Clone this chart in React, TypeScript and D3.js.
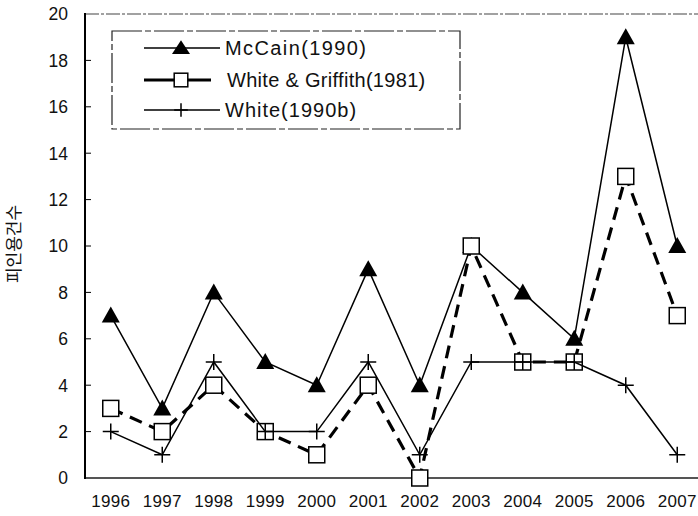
import { useRef, useEffect } from 'react';
import * as d3 from 'd3';

// Data
const years = ['1996', '1997', '1998', '1999', '2000', '2001', '2002', '2003', '2004', '2005', '2006', '2007'];
const mccain = [7, 3, 8, 5, 4, 9, 4, 10, 8, 6, 19, 10];
const whiteGriffith = [3, 2, 4, 2, 1, 4, 0, 10, 5, 5, 13, 7];
const white1990b = [2, 1, 5, 2, 2, 5, 1, 5, 5, 5, 4, 1];
const yTicks = [0, 2, 4, 6, 8, 10, 12, 14, 16, 18, 20];
const seriesNames = ['McCain(1990)', 'White & Griffith(1981)', 'White(1990b)'];

const width = 698;
const height = 516;

function App() {
  const ref = useRef<SVGSVGElement>(null);

  useEffect(() => {
    const svg = d3.select(ref.current);
    svg.selectAll('*').remove();

    const font = '"Liberation Sans", Arial, sans-serif';
    const left = 85;
    const step = 51.5;
    const top = 14;
    const bottom = 478;

    const x = d3.scaleBand().domain(years).range([left, left + step * years.length]);
    const cx = (i: number) => (x(years[i]) ?? 0) + x.bandwidth() / 2;
    const y = d3.scaleLinear().domain([0, 20]).range([bottom, top]);

    // plot frame
    svg.append('line')
      .attr('x1', left).attr('x2', width).attr('y1', top).attr('y2', top)
      .attr('stroke', '#444').attr('stroke-width', 1.2).attr('stroke-dasharray', '14 2 3 2');
    svg.append('line')
      .attr('x1', left).attr('x2', width).attr('y1', bottom).attr('y2', bottom)
      .attr('stroke', '#555').attr('stroke-width', 2);
    svg.append('line')
      .attr('x1', left).attr('x2', left).attr('y1', top - 1).attr('y2', bottom + 1)
      .attr('stroke', '#000').attr('stroke-width', 2);

    // y ticks + labels
    const yg = svg.append('g');
    yg.selectAll('line.tick').data(yTicks.slice(1, -1)).enter().append('line')
      .attr('x1', left).attr('x2', left + 6)
      .attr('y1', d => y(d)).attr('y2', d => y(d))
      .attr('stroke', '#000').attr('stroke-width', 1);
    yg.selectAll('text').data(yTicks).enter().append('text')
      .attr('x', 68).attr('y', d => y(d)).attr('dy', '0.36em')
      .attr('text-anchor', 'end')
      .attr('font-family', font).attr('font-size', 17.5).attr('fill', '#111')
      .text(d => d);

    // x labels
    svg.append('g').selectAll('text').data(years).enter().append('text')
      .attr('x', (d, i) => cx(i)).attr('y', 507)
      .attr('text-anchor', 'middle')
      .attr('font-family', font).attr('font-size', 17).attr('fill', '#111')
      .attr('letter-spacing', 0.3)
      .text(d => d);

    // y axis title
    svg.append('text')
      .attr('transform', 'translate(20,244) rotate(-90)')
      .attr('text-anchor', 'middle')
      .attr('font-family', '"Noto Sans CJK KR", sans-serif')
      .attr('font-size', 17).attr('fill', '#111')
      .text('피인용건수');

    const line = d3.line<number>().x((d, i) => cx(i)).y(d => y(d));

    const triangle = (g: any, px: number, py: number, s = 1) =>
      g.append('path')
        .attr('d', `M${px},${py - 9 * s}L${px + 9},${py + 7 * s}L${px - 9},${py + 7 * s}Z`)
        .attr('fill', '#000');
    const square = (g: any, px: number, py: number, s = 1) =>
      g.append('rect')
        .attr('x', px - 8 * s).attr('y', py - 8 * s).attr('width', 16 * s).attr('height', 16 * s)
        .attr('fill', '#fff').attr('stroke', '#000').attr('stroke-width', 1.5);
    const plus = (g: any, px: number, py: number, s = 1) =>
      g.append('path')
        .attr('d', `M${px - 8 * s},${py}H${px + 8 * s}M${px},${py - 8 * s}V${py + 8 * s}`)
        .attr('stroke', '#000').attr('stroke-width', 1.5).attr('fill', 'none');

    // McCain
    const g1 = svg.append('g');
    g1.append('path').attr('d', line(mccain)).attr('fill', 'none')
      .attr('stroke', '#000').attr('stroke-width', 1.5);
    mccain.forEach((v, i) => triangle(g1, cx(i), y(v)));

    // White & Griffith
    const g2 = svg.append('g');
    g2.append('path').attr('d', line(whiteGriffith)).attr('fill', 'none')
      .attr('stroke', '#000').attr('stroke-width', 3.2).attr('stroke-dasharray', '13 8');
    whiteGriffith.forEach((v, i) => square(g2, cx(i), y(v)));

    // White 1990b
    const g3 = svg.append('g');
    g3.append('path').attr('d', line(white1990b)).attr('fill', 'none')
      .attr('stroke', '#000').attr('stroke-width', 1.5);
    white1990b.forEach((v, i) => plus(g3, cx(i), y(v)));

    // legend
    const lg = svg.append('g');
    lg.append('rect')
      .attr('x', 112).attr('y', 31).attr('width', 348).attr('height', 98)
      .attr('fill', '#fff').attr('stroke', '#222').attr('stroke-width', 1.2)
      .attr('stroke-dasharray', '30 3 6 3');
    const rows = [48, 80, 110];
    const markers = [triangle, square, plus];
    const lineEnd = [220, 211, 220];
    const spacing = [1.4, 0.3, 1.0];
    rows.forEach((ry, i) => {
      lg.append('line')
        .attr('x1', 144).attr('x2', lineEnd[i]).attr('y1', ry).attr('y2', ry)
        .attr('stroke', '#000').attr('stroke-width', i === 1 ? 3.2 : 1.5);
      markers[i](lg, 181, ry, 0.85);
      lg.append('text')
        .attr('x', i === 1 ? 227 : 225).attr('y', ry).attr('dy', '0.36em')
        .attr('font-family', font).attr('font-size', 20).attr('fill', '#111')
        .attr('letter-spacing', spacing[i])
        .text(seriesNames[i]);
    });
  }, []);

  return <svg ref={ref} width={width} height={height} style={{ position: 'absolute', left: 0, top: 0 }} />;
}

export default App;
